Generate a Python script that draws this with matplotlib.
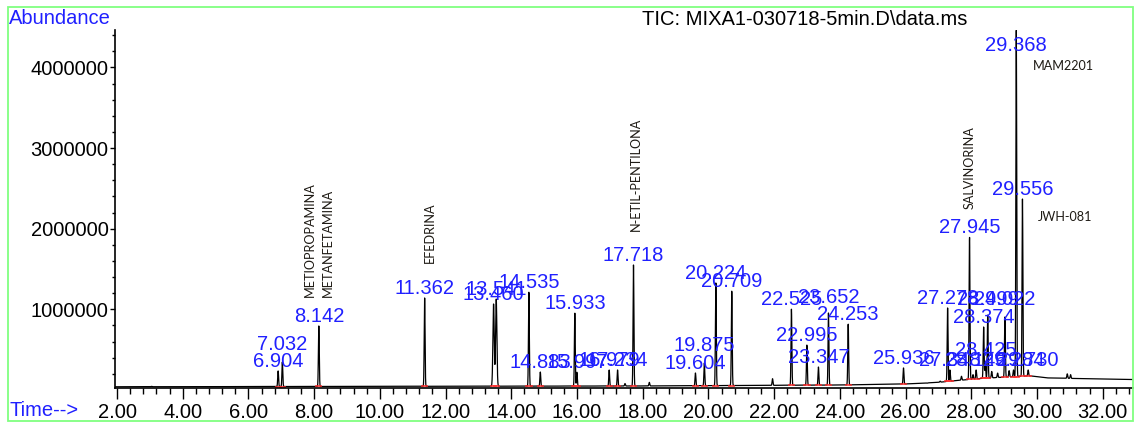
import numpy as np
import matplotlib.pyplot as plt
from matplotlib.patches import Rectangle
from matplotlib.ticker import MultipleLocator, FuncFormatter

# labelled peaks: retention time (min) and apex abundance
rt = [6.904, 7.032, 8.142, 11.362, 13.460, 13.541, 14.535, 14.883, 15.933, 15.997,
      16.979, 17.234, 17.718, 19.604, 19.875, 20.224, 20.709, 22.525, 22.995, 23.347,
      23.652, 24.253, 25.936, 27.278, 27.348, 27.945, 28.146, 28.374, 28.425, 28.499,
      29.022, 29.284, 29.368, 29.556, 29.730]
apex = [236000, 347000, 794000, 1141000, 1066000, 1128000, 1215000, 223000, 955000, 220000,
        248000, 248000, 1550000, 211000, 335000, 1327000, 1228000, 1004000, 558000, 285000,
        955000, 818000, 273000, 1017000, 248000, 1897000, 248000, 781000, 347000, 930000,
        905000, 248000, 4460000, 2368000, 248000]

# unlabelled small peaks
minor_rt = [3.05, 3.55, 17.46, 18.20, 21.95, 26.65, 27.05, 27.70, 28.05, 28.62, 28.80, 29.15, 30.92, 31.02]
minor_apex = [45000, 40000, 80000, 95000, 140000, 85000, 110000, 170000, 190000, 230000, 210000, 240000, 200000, 190000]

# baseline drift
base_t = [1.94, 18.0, 24.0, 26.0, 27.0, 27.5, 28.2, 29.0, 29.8, 30.3, 31.5, 32.92]
base_v = [40000, 50000, 62000, 75000, 95000, 115000, 140000, 160000, 175000, 150000, 140000, 130000]

# compound names written on the chart
names = ['METIOPROPAMINA', 'METANFETAMINA', 'EFEDRINA', 'N-ETIL-PENTILONA', 'SALVINORINA', 'MAM2201', 'JWH-081']
name_x = [7.87, 8.42, 11.53, 17.79, 27.96, 29.88, 30.03]
name_y = [1155000, 1155000, 1580000, 1970000, 2250000, 4020000, 2150000]
name_rot = [90, 90, 90, 90, 90, 0, 0]

# extra lift of some peak labels (pixels)
label_nudge = {7.032: 8, 19.875: 8, 23.652: 6, 28.499: 6, 29.022: 8, 28.425: 2, 29.368: -25}

blue = '#2020ff'
plt.rcParams['font.family'] = ['Liberation Sans', 'DejaVu Sans']

fig = plt.figure(figsize=(11.34, 4.25), dpi=100)
W, H = 1134, 425
ax = fig.add_axes([115 / W, 1 - 388 / H, (1133 - 115) / W, (388 - 30) / H])

t = np.arange(1.94, 32.92, 0.002)
sig = np.interp(t, base_t, base_v)
for r, a in list(zip(rt, apex)) + list(zip(minor_rt, minor_apex)):
    s = 0.02 if r in (13.460, 13.541) else 0.013
    b = np.interp(r, base_t, base_v)
    sig = sig + (a - b) * np.exp(-0.5 * ((t - r) / s) ** 2)

ax.plot(t, sig, color='black', lw=0.9)

# red integration marks at the peak bases
for r in rt:
    b = np.interp(r, base_t, base_v)
    ax.plot([r - 0.08, r + 0.08], [b, b], color='#ff2a2a', lw=1.3, alpha=0.85)

for r, a in zip(rt, apex):
    ax.annotate(f'{r:.3f}', xy=(r, a), xytext=(0, (4 + label_nudge.get(r, 0)) * 0.72),
                textcoords='offset points', ha='center', va='baseline',
                color=blue, fontsize=14.5)

for n, x, y, rot in zip(names, name_x, name_y, name_rot):
    ax.text(x, y, n, rotation=rot, ha='center' if rot else 'left',
            va='bottom' if rot else 'center', fontsize=9.1, color='#1e1a14',
            family=['Lato', 'DejaVu Sans'])

ax.set_xlim(1.939, 32.92)
ax.set_ylim(24800, 4464000)
ax.xaxis.set_major_locator(MultipleLocator(2))
ax.xaxis.set_minor_locator(MultipleLocator(0.4))
ax.yaxis.set_major_locator(MultipleLocator(1000000))
ax.yaxis.set_minor_locator(MultipleLocator(200000))
ax.xaxis.set_major_formatter(FuncFormatter(lambda v, p: f'{v:.2f}'))
ax.yaxis.set_major_formatter(FuncFormatter(lambda v, p: f'{v:.0f}'))
ax.tick_params(axis='x', which='major', length=8, width=1, pad=3, labelsize=14.5)
ax.tick_params(axis='x', which='minor', length=4.3, width=1)
ax.tick_params(axis='y', which='major', length=3.6, width=1, pad=1, labelsize=14.5)
ax.tick_params(axis='y', which='minor', length=2.2, width=1)
for side in ('top', 'right'):
    ax.spines[side].set_visible(False)
for side in ('left', 'bottom'):
    ax.spines[side].set_linewidth(1.2)

fig.text(9 / W, 1 - 19 / H, 'Abundance', color=blue, fontsize=14.5, ha='left', va='center')
fig.text(642 / W, 1 - 19.5 / H, 'TIC: MIXA1-030718-5min.D\\data.ms', color='black',
         fontsize=14.5, ha='left', va='center')
fig.text(9 / W, 1 - 410 / H, 'Time-->', color=blue, fontsize=14.5, ha='left', va='center')

fig.patches.append(Rectangle((8 / W, 1 - 421 / H), (1133 - 8) / W, (421 - 7) / H,
                             transform=fig.transFigure, fill=False,
                             edgecolor='#80ff80', lw=1.3))

fig.savefig('out.png', dpi=100)
